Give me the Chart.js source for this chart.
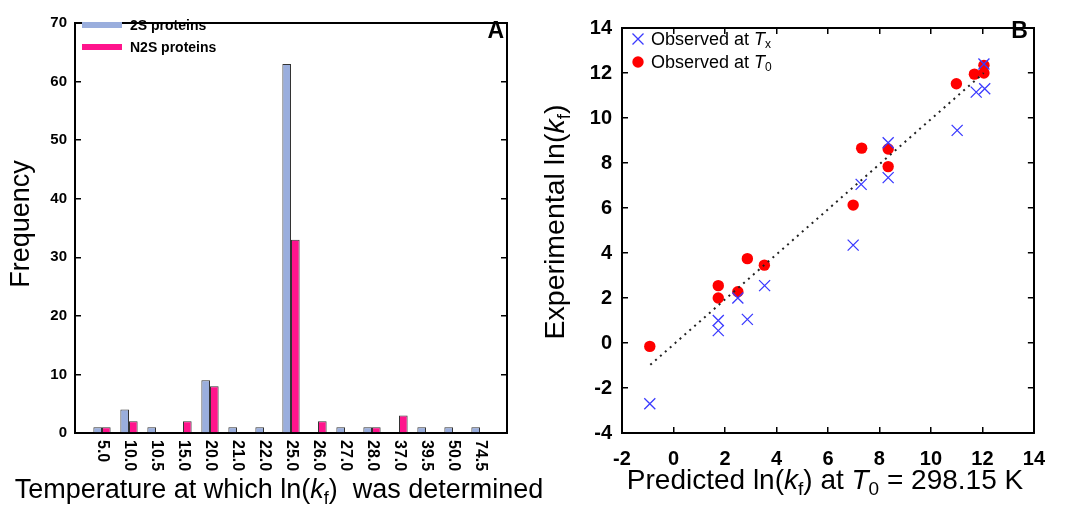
<!DOCTYPE html>
<html lang="en">
<head>
<meta charset="UTF-8">
<title>Folding temperatures and predicted ln(kf)</title>
<script src="https://cdn.jsdelivr.net/npm/chart.js"></script>
<style>
  html, body { margin: 0; padding: 0; background: #fff; }
  #wrap { position: relative; width: 1065px; height: 505px; overflow: hidden; }
  canvas { position: absolute; top: 0; }
  #histChart { left: 0; }
  #scatterChart { left: 530px; }
</style>
</head>
<body>
<div id="wrap">
  <canvas id="histChart" width="560" height="505"></canvas>
  <canvas id="scatterChart" width="535" height="505"></canvas>
</div>
<script>
// panel A: temperature of ln(kf) measurement
const tempLabels = ['5.0', '10.0', '10.5', '15.0', '20.0', '21.0', '22.0', '25.0',
                    '26.0', '27.0', '28.0', '37.0', '39.5', '50.0', '74.5'];
const freq2S  = [1, 4, 1, 0, 9, 1, 1, 63, 0, 1, 1, 0, 1, 1, 1];
const freqN2S = [1, 2, 0, 2, 8, 0, 0, 33, 2, 0, 1, 3, 0, 0, 0];
const freqTicks = [0, 10, 20, 30, 40, 50, 60, 70];

// panel B: predicted vs experimental ln(kf)
const predTx = [-0.92, 1.74, 1.74, 2.5, 2.87, 3.54, 6.98, 7.29, 8.34, 8.34, 11.02, 11.76, 12.09, 12.06];
const obsTx  = [-2.7, 1.0, 0.55, 2.0, 1.05, 2.55, 4.35, 7.05, 8.9, 7.35, 9.45, 11.15, 11.3, 12.4];
const predT0 = [-0.92, 1.74, 1.74, 2.5, 2.87, 3.53, 6.98, 7.31, 8.34, 8.34, 10.99, 11.69, 12.06, 12.06];
const obsT0  = [-0.15, 2.55, 2.0, 2.28, 3.75, 3.46, 6.13, 8.66, 8.62, 7.84, 11.52, 11.95, 12.0, 12.34];
const fitX = [-0.9, 12.05];
const fitY = [-0.97, 12.0];
const axisTicksB = [-4, -2, 0, 2, 4, 6, 8, 10, 12, 14];

const FONT = '"Liberation Sans", Arial, Helvetica, sans-serif';
Chart.defaults.font.family = FONT;
Chart.defaults.color = '#000';

// text with italic / subscript runs: [text, kind]
function drawRich(ctx, runs, x, y, size, align) {
  const fontFor = k => (k === 'i' ? 'italic ' : '') + (k === 'sub' ? Math.round(size * 0.68) : size) + 'px ' + FONT;
  let total = 0;
  runs.forEach(([t, k]) => { ctx.font = fontFor(k); total += ctx.measureText(t).width; });
  let cx = align === 'center' ? x - total / 2 : x;
  ctx.textAlign = 'left';
  ctx.textBaseline = 'alphabetic';
  runs.forEach(([t, k]) => {
    ctx.font = fontFor(k);
    ctx.fillText(t, cx, k === 'sub' ? y + size * 0.22 : y);
    cx += ctx.measureText(t).width;
  });
}

const inward = { drawOnChartArea: false, drawTicks: true, tickLength: -6, color: '#000', lineWidth: 1.5 };
const frame = { display: true, color: '#000', width: 2 };

// ---------- panel A ----------
const histDecor = {
  id: 'histDecor',
  afterDraw(chart) {
    const ctx = chart.ctx;
    const xs = chart.scales.x;
    ctx.save();
    ctx.fillStyle = '#000';
    // rotated category labels
    ctx.font = 'bold 16px ' + FONT;
    ctx.textAlign = 'left';
    ctx.textBaseline = 'middle';
    tempLabels.forEach((lab, i) => {
      ctx.save();
      ctx.translate(xs.getPixelForValue(i), chart.chartArea.bottom + 7);
      ctx.rotate(Math.PI / 2);
      ctx.fillText(lab, 0, 0);
      ctx.restore();
    });
    // legend
    const left = chart.chartArea.left;
    [['2S proteins', '#9aaedd', 25], ['N2S proteins', '#ff148c', 47]].forEach(([t, c, y]) => {
      ctx.fillStyle = c;
      ctx.fillRect(left + 7, y - 3, 40, 6);
      ctx.fillStyle = '#000';
      ctx.font = 'bold 14px ' + FONT;
      ctx.textBaseline = 'middle';
      ctx.fillText(t, left + 55, y + 1);
    });
    ctx.font = 'bold 23px ' + FONT;
    ctx.textAlign = 'right';
    ctx.textBaseline = 'middle';
    ctx.fillText('A', chart.chartArea.right - 3, 32);
    // axis titles
    drawRich(ctx, [['Temperature at which ln(', ''], ['k', 'i'], ['f', 'sub'], [')  was determined', '']],
      279, 498, 27, 'center');
    ctx.save();
    ctx.translate(29, 224);
    ctx.rotate(-Math.PI / 2);
    drawRich(ctx, [['Frequency', '']], 0, 0, 27, 'center');
    ctx.restore();
    ctx.restore();
  }
};

new Chart(document.getElementById('histChart'), {
  type: 'bar',
  data: {
    datasets: [
      { label: '2S proteins', data: freq2S.map((v, i) => ({ x: i, y: v || null })),
        backgroundColor: '#9aaedd', borderColor: '#333', borderWidth: 1 },
      { label: 'N2S proteins', data: freqN2S.map((v, i) => ({ x: i, y: v || null })),
        backgroundColor: '#ff148c', borderColor: '#333', borderWidth: 1 }
    ]
  },
  options: {
    responsive: false,
    animation: false,
    events: [],
    categoryPercentage: 0.64,
    barPercentage: 1,
    layout: { padding: { top: 14, right: 53, left: 0, bottom: 0 } },
    plugins: { legend: { display: false }, tooltip: { enabled: false } },
    scales: {
      x: {
        type: 'linear', min: -1, max: 15, offset: false,
        afterBuildTicks: s => { s.ticks = tempLabels.map((_, i) => ({ value: i })); },
        ticks: { display: false },
        grid: { display: false, offset: false },
        border: frame,
        afterFit: s => { s.height = 72; }
      },
      x2: {
        type: 'linear', position: 'top', min: -1, max: 15, offset: false,
        ticks: { display: false }, grid: { display: false }, border: frame,
        afterFit: s => { s.height = 0; }
      },
      y: {
        min: 0, max: 70,
        afterBuildTicks: s => { s.ticks = freqTicks.map(v => ({ value: v })); },
        ticks: { font: { size: 15, weight: 'bold' }, padding: 14 },
        grid: inward, border: frame,
        afterFit: s => { s.width = 75; }
      },
      y2: {
        position: 'right', min: 0, max: 70,
        afterBuildTicks: s => { s.ticks = freqTicks.map(v => ({ value: v })); },
        ticks: { display: false }, grid: inward, border: frame,
        afterFit: s => { s.width = 0; }
      }
    }
  },
  plugins: [histDecor]
});

// ---------- panel B ----------
const scatterDecor = {
  id: 'scatterDecor',
  afterDraw(chart) {
    const ctx = chart.ctx;
    const ca = chart.chartArea;
    ctx.save();
    ctx.fillStyle = '#000';
    // legend
    const mx = ca.left + 16;
    ctx.strokeStyle = '#3a3aff';
    ctx.lineWidth = 1.3;
    ctx.beginPath();
    ctx.moveTo(mx - 5.5, 39 - 5.5); ctx.lineTo(mx + 5.5, 39 + 5.5);
    ctx.moveTo(mx + 5.5, 39 - 5.5); ctx.lineTo(mx - 5.5, 39 + 5.5);
    ctx.stroke();
    ctx.fillStyle = '#ff0000';
    ctx.beginPath();
    ctx.arc(mx, 62, 5.7, 0, Math.PI * 2);
    ctx.fill();
    ctx.fillStyle = '#000';
    drawRich(ctx, [['Observed at ', ''], ['T', 'i'], ['x', 'sub']], ca.left + 29, 44.5, 18, 'left');
    drawRich(ctx, [['Observed at ', ''], ['T', 'i'], ['0', 'sub']], ca.left + 29, 67.5, 18, 'left');
    ctx.font = 'bold 23px ' + FONT;
    ctx.textAlign = 'right';
    ctx.textBaseline = 'middle';
    ctx.fillText('B', ca.right - 6, 32);
    // axis titles
    drawRich(ctx, [['Predicted ln(', ''], ['k', 'i'], ['f', 'sub'], [') at ', ''], ['T', 'i'], ['0', 'sub'], [' = 298.15 K', '']],
      825 - 530, 489, 28, 'center');
    ctx.save();
    ctx.translate(564 - 530, 222);
    ctx.rotate(-Math.PI / 2);
    drawRich(ctx, [['Experimental ln(', ''], ['k', 'i'], ['f', 'sub'], [')', '']], 0, 0, 28.5, 'center');
    ctx.restore();
    ctx.restore();
  }
};

const tickSetB = s => { s.ticks = axisTicksB.filter(v => v >= s.min && v <= s.max).map(v => ({ value: v })); };

new Chart(document.getElementById('scatterChart'), {
  type: 'scatter',
  data: {
    datasets: [
      { type: 'line', label: 'fit', data: fitX.map((x, i) => ({ x, y: fitY[i] })),
        borderColor: '#222', borderWidth: 2, borderDash: [2, 4.5], pointRadius: 0, fill: false },
      { label: 'Observed at Tx', data: predTx.map((x, i) => ({ x, y: obsTx[i] })),
        pointStyle: 'crossRot', radius: 7.8, borderColor: '#3a3aff', backgroundColor: '#3a3aff', borderWidth: 1.3 },
      { label: 'Observed at T0', data: predT0.map((x, i) => ({ x, y: obsT0[i] })),
        pointStyle: 'circle', radius: 5.7, backgroundColor: '#ff0000', borderWidth: 0 }
    ]
  },
  options: {
    responsive: false,
    animation: false,
    events: [],
    layout: { padding: { top: 14, right: 12, left: 0, bottom: 0 } },
    plugins: { legend: { display: false }, tooltip: { enabled: false } },
    scales: {
      x: {
        type: 'linear', min: -2, max: 14,
        afterBuildTicks: tickSetB,
        ticks: { font: { size: 20, weight: 'bold' }, padding: 20, maxRotation: 0 },
        grid: inward, border: frame,
        afterFit: s => { s.height = 72; }
      },
      x2: {
        type: 'linear', position: 'top', min: -2, max: 14,
        afterBuildTicks: tickSetB,
        ticks: { display: false }, grid: inward, border: frame,
        afterFit: s => { s.height = 0; }
      },
      y: {
        type: 'linear', min: -4, max: 14,
        afterBuildTicks: tickSetB,
        ticks: { font: { size: 20, weight: 'bold' }, padding: 16 },
        grid: inward, border: frame,
        afterFit: s => { s.width = 92; }
      },
      y2: {
        type: 'linear', position: 'right', min: -4, max: 14,
        afterBuildTicks: tickSetB,
        ticks: { display: false }, grid: inward, border: frame,
        afterFit: s => { s.width = 0; }
      }
    }
  },
  plugins: [scatterDecor]
});
</script>
</body>
</html>
